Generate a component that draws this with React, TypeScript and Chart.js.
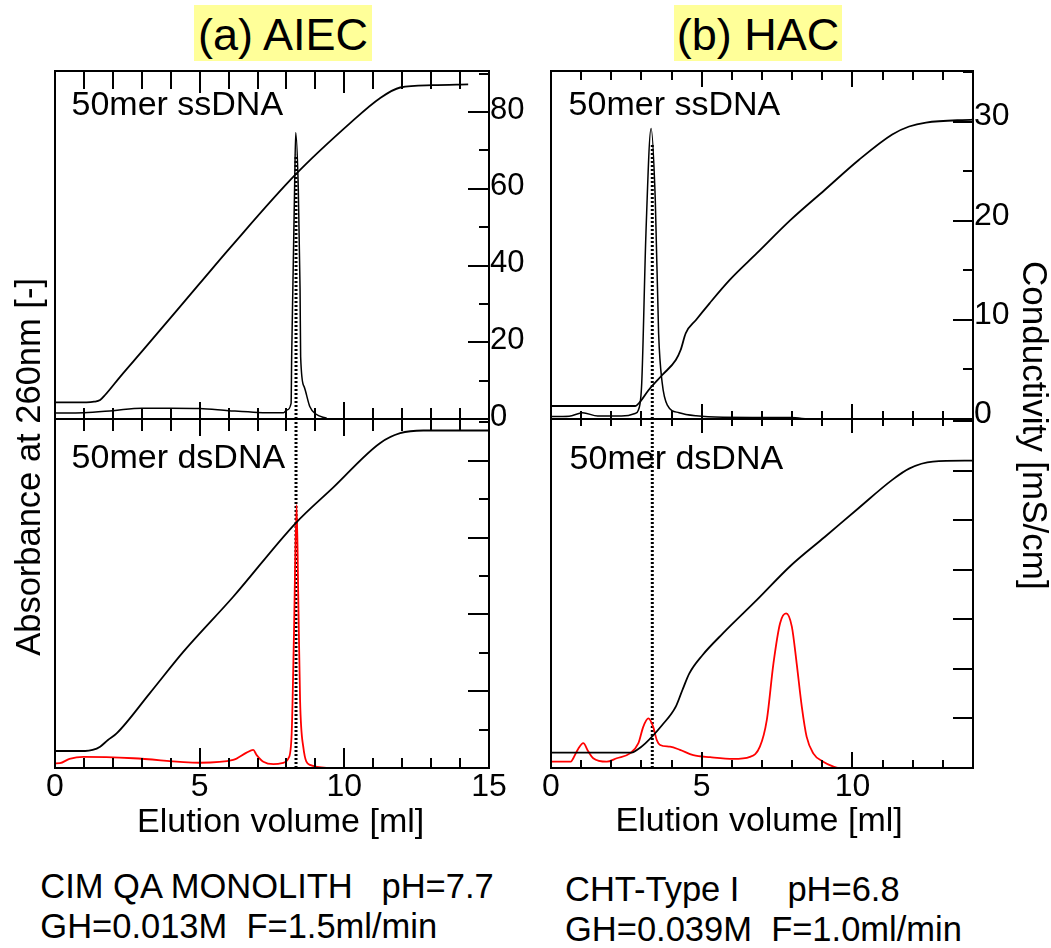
import { useEffect, useRef } from "react";
import { Chart, registerables } from "chart.js";

Chart.register(...registerables);

const FONT = "'Liberation Sans', Arial, Helvetica, sans-serif";

// ---------------- data ----------------
// (a) AIEC, 50mer ssDNA
const aiecSsCondX = [0, 1.09, 1.35, 1.56, 1.73, 2.25, 3.05, 5.01, 6.05, 8.3, 10.2, 11.23, 11.93, 13.07, 14.28];
const aiecSsCondY = [4.35, 4.35, 4.5, 4.95, 6.25, 11.0, 18.0, 35.4, 44.6, 63.6, 77.1, 83.6, 86.4, 87.0, 87.2];
const aiecSsAbsX = [0, 1, 2, 3, 4, 5, 6, 7, 7.9, 8.01, 8.16, 8.18, 8.22, 8.28, 8.32, 8.41, 8.47, 8.49, 8.61, 8.81, 9.0, 9.39];
const aiecSsAbsY = [1.7, 1.8, 2.4, 3.1, 3.1, 3.0, 2.4, 1.9, 1.8, 2.6, 4.5, 17.9, 37.1, 65.8, 82.3, 65.8, 37.1, 17.9, 9.3, 3.5, 1.5, 0.2];

// (a) AIEC, 50mer dsDNA
const aiecDsCondX = [0, 1.04, 1.3, 1.56, 1.83, 2.13, 3.28, 4.44, 6.16, 8.32, 9.62, 11.23, 11.93, 12.73, 15];
const aiecDsCondY = [4.43, 4.43, 4.7, 5.55, 7.3, 9.0, 19.5, 30.3, 44.6, 63.8, 73.1, 84.6, 87.2, 87.9, 87.9];
const aiecDsAbsX = [0, 0.17, 0.5, 0.98, 2.71, 5.01, 6.16, 6.62, 6.85, 6.97, 7.2, 7.55, 7.89, 8.07, 8.18, 8.26, 8.35, 8.41, 8.47, 8.58, 8.81, 9.5];
const aiecDsAbsY = [1.35, 1.4, 2.6, 3.2, 2.8, 1.5, 2.3, 4.4, 5.2, 3.7, 1.8, 1.1, 1.5, 2.8, 9.9, 38.6, 75.4, 48.1, 19.5, 6.1, 0.9, 0];

// (b) HAC, 50mer ssDNA
const hacSsCondX = [0, 2.79, 2.96, 3.24, 3.69, 4.14, 4.3, 4.47, 4.81, 5.26, 5.93, 6.83, 7.95, 9.08, 10.2, 11.32, 11.88, 12.44, 14];
const hacSsCondY = [1.31, 1.31, 1.75, 2.93, 4.44, 5.95, 6.96, 8.65, 9.99, 11.67, 14.03, 16.72, 20.08, 23.1, 26.1, 28.7, 29.5, 29.9, 30.2];
const hacSsAbsX = [0, 0.6, 1.05, 1.55, 2.34, 2.79, 2.9, 3.01, 3.15, 3.32, 3.46, 3.57, 3.69, 3.86, 4.25, 4.81, 5.71, 7.95, 8.51];
const hacSsAbsY = [0.7, 0.8, 1.8, 0.85, 0.85, 1.6, 2.6, 10.3, 53.4, 83.5, 62.9, 24.6, 10.3, 4.0, 1.8, 0.9, 0.5, 0.4, 0];

// (b) HAC, 50mer dsDNA
const hacDsCondX = [0, 2.68, 2.85, 3.13, 3.69, 4.14, 4.36, 4.59, 5.03, 5.71, 6.83, 7.95, 9.08, 10.2, 11.32, 11.88, 12.67, 14];
const hacDsCondY = [1.55, 1.55, 1.82, 2.49, 4.34, 6.19, 7.87, 9.55, 11.4, 13.6, 16.95, 20.4, 23.3, 26.2, 29.06, 30.2, 30.9, 31.0];
const hacDsAbsX = [0, 0.66, 0.74, 0.91, 1.07, 1.24, 1.4, 1.85, 2.18, 2.62, 2.9, 3.06, 3.23, 3.39, 3.51, 3.62, 3.95, 4.28, 4.72, 5.28, 6.05, 6.6, 6.93, 7.16, 7.38, 7.6, 7.8, 7.99, 8.15, 8.32, 8.48, 8.7, 9.03, 9.37, 9.53];
const hacDsAbsY = [1.8, 1.8, 2.8, 5.6, 7.1, 4.7, 2.8, 1.8, 2.8, 4.2, 7.1, 11.8, 14.2, 11.8, 8.0, 6.6, 6.1, 5.2, 3.7, 3.1, 2.6, 3.2, 6.1, 13.8, 30.0, 41.5, 44.3, 40.5, 30.0, 17.6, 9.0, 4.2, 1.8, 0.4, 0];

// elution-volume markers (dotted lines) and axis ranges
const aiecMarker = 8.33;
const hacMarker = 3.36;
const aiecVolMax = 15;
const hacVolMax = 14;
const aiecCondTickStep = 20;
const hacCondTickStep = 10;

const pts = (xs: number[], ys: number[]) => xs.map((x, i) => ({ x, y: ys[i] }));

type Ticks = {
  topMinor: number; topMajor: number; botMinor: number; botMajor: number;
  rStep: number; rMajor: number; rMajorLen: number; rMinorLen: number;
};

type Panel = {
  key: string;
  area: { x: number; y: number; w: number; h: number };
  xMax: number; condMax: number; condStep: number; condFont: number; labelOffset: number;
  showCond: boolean; showX: boolean;
  cond: { x: number; y: number }[]; abs: { x: number; y: number }[];
  absColor: string; absWidth: number; marker: number; markerTop: number; ticks: Ticks;
};

const PANELS: Panel[] = [
  {
    key: "aiec-ss", area: { x: 55, y: 71, w: 434, h: 348 }, xMax: aiecVolMax, condMax: 90.7,
    condStep: aiecCondTickStep, condFont: 31, labelOffset: -2, showCond: true, showX: false,
    cond: pts(aiecSsCondX, aiecSsCondY), abs: pts(aiecSsAbsX, aiecSsAbsY), absColor: "#000", absWidth: 1.5,
    marker: aiecMarker, markerTop: 75.9,
    ticks: { topMinor: 18, topMajor: 22, botMinor: 11, botMajor: 17, rStep: 10, rMajor: 20, rMajorLen: 21, rMinorLen: 10 },
  },
  {
    key: "aiec-ds", area: { x: 55, y: 419, w: 434, h: 349 }, xMax: aiecVolMax, condMax: 90.9,
    condStep: aiecCondTickStep, condFont: 31, labelOffset: 0, showCond: false, showX: true,
    cond: pts(aiecDsCondX, aiecDsCondY), abs: pts(aiecDsAbsX, aiecDsAbsY), absColor: "#ff0000", absWidth: 1.8,
    marker: aiecMarker, markerTop: 100,
    ticks: { topMinor: 12, topMajor: 17, botMinor: 10, botMajor: 20, rStep: 10, rMajor: 20, rMajorLen: 21, rMinorLen: 10 },
  },
  {
    key: "hac-ss", area: { x: 551, y: 71, w: 422, h: 348 }, xMax: hacVolMax, condMax: 35.1,
    condStep: hacCondTickStep, condFont: 32, labelOffset: -5, showCond: true, showX: false,
    cond: pts(hacSsCondX, hacSsCondY), abs: pts(hacSsAbsX, hacSsAbsY), absColor: "#000", absWidth: 1.5,
    marker: hacMarker, markerTop: 79.2,
    ticks: { topMinor: 9, topMajor: 16, botMinor: 8, botMajor: 15, rStep: 5, rMajor: 10, rMajorLen: 20, rMinorLen: 10 },
  },
  {
    key: "hac-ds", area: { x: 551, y: 419, w: 422, h: 349 }, xMax: hacVolMax, condMax: 35.2,
    condStep: hacCondTickStep, condFont: 32, labelOffset: 0, showCond: false, showX: true,
    cond: pts(hacDsCondX, hacDsCondY), abs: pts(hacDsAbsX, hacDsAbsY), absColor: "#ff0000", absWidth: 1.8,
    marker: hacMarker, markerTop: 100,
    ticks: { topMinor: 7, topMajor: 14, botMinor: 8, botMajor: 16, rStep: 5, rMajor: 5, rMajorLen: 20, rMinorLen: 20 },
  },
];

const M = { l: 30, t: 30, r: 60, b: 60 };
const COND_AXIS_W = 50;
const X_AXIS_H = 50;

const makeFrame = (t: Ticks) => ({
  id: "panelFrame",
  afterDraw(chart: any) {
    const ctx: CanvasRenderingContext2D = chart.ctx;
    const xs = chart.scales.x;
    const yc = chart.scales.yC;
    const L = Math.round(xs.getPixelForValue(xs.min));
    const R = Math.round(xs.getPixelForValue(xs.max));
    const T = Math.round(yc.getPixelForValue(yc.max));
    const B = Math.round(yc.getPixelForValue(yc.min));
    ctx.save();
    ctx.setLineDash([]);
    ctx.globalAlpha = 1;
    ctx.globalCompositeOperation = "source-over";
    ctx.fillStyle = "#000";
    // frame
    ctx.fillRect(L - 1, T - 1, R - L + 2, 2);
    ctx.fillRect(L - 1, B - 1, R - L + 2, 2);
    ctx.fillRect(L - 1, T - 1, 2, B - T + 2);
    ctx.fillRect(R - 1, T - 1, 2, B - T + 2);
    // elution-volume ticks on top and bottom edges, pointing inward
    for (let v = 0; v <= xs.max + 1e-6; v += 1) {
      const px = Math.round(xs.getPixelForValue(v));
      const major = v % 5 === 0;
      const lt = major ? t.topMajor : t.topMinor;
      const lb = major ? t.botMajor : t.botMinor;
      ctx.fillRect(px - 1, T, 2, lt);
      ctx.fillRect(px - 1, B - lb, 2, lb);
    }
    // conductivity ticks on the right edge, pointing inward
    for (let i = 0; i * t.rStep <= yc.max + 1e-6; i++) {
      const v = i * t.rStep;
      const py = Math.round(yc.getPixelForValue(v));
      const r = v / t.rMajor;
      const major = Math.abs(r - Math.round(r)) < 1e-6;
      const l = major ? t.rMajorLen : t.rMinorLen;
      ctx.fillRect(R - l, py - 1, l, 2);
    }
    ctx.restore();
  },
});

function buildChart(canvas: HTMLCanvasElement, p: Panel) {
  const xScale: any = {
    type: "linear", min: 0, max: p.xMax, display: p.showX,
    grid: { display: false, drawTicks: false }, border: { display: false },
    ticks: { stepSize: 5, includeBounds: false, maxRotation: 0, padding: 0, color: "#000", font: { family: FONT, size: 32 } },
  };
  if (p.showX) xScale.afterFit = (s: any) => { s.height = X_AXIS_H; };
  const cScale: any = {
    type: "linear", position: "right", min: 0, max: p.condMax, display: p.showCond,
    grid: { display: false, drawTicks: false }, border: { display: false },
    ticks: { stepSize: p.condStep, includeBounds: false, padding: 1, labelOffset: p.labelOffset, color: "#000", font: { family: FONT, size: p.condFont } },
  };
  if (p.showCond) cScale.afterFit = (s: any) => { s.width = COND_AXIS_W; };

  return new Chart(canvas, {
    type: "scatter",
    data: {
      datasets: [
        { data: p.cond, yAxisID: "yC", borderColor: "#000", borderWidth: 1.8, showLine: true, pointRadius: 0, cubicInterpolationMode: "monotone" },
        { data: p.abs, yAxisID: "yA", borderColor: p.absColor, borderWidth: p.absWidth, showLine: true, pointRadius: 0, cubicInterpolationMode: "monotone" },
        {
          data: [{ x: p.marker, y: 0 }, { x: p.marker, y: p.markerTop }],
          yAxisID: "yA", borderColor: "#000", borderWidth: 3, borderDash: [2, 2], showLine: true, pointRadius: 0,
        },
      ],
    } as any,
    options: {
      animation: false,
      responsive: false,
      events: [],
      layout: {
        padding: {
          left: M.l, top: M.t,
          right: p.showCond ? M.r - COND_AXIS_W : M.r,
          bottom: p.showX ? M.b - X_AXIS_H : M.b,
        },
      },
      plugins: { legend: { display: false }, tooltip: { enabled: false } },
      scales: { x: xScale, yA: { type: "linear", min: 0, max: 100, display: false }, yC: cScale },
    } as any,
    plugins: [makeFrame(p.ticks)],
  });
}

function Txt({ x, base, size, children }: { x: number; base: number; size: number; children: string }) {
  return (
    <div style={{ position: "absolute", left: x, top: base - 0.8465 * size, fontSize: size, lineHeight: `${size}px`, whiteSpace: "pre" }}>
      {children}
    </div>
  );
}

function VTxt({ cx, cy, size, mode, children }: { cx: number; cy: number; size: number; mode: string; children: string }) {
  return (
    <div
      style={{
        position: "absolute", left: cx - 20, top: cy - 250, width: 40, height: 500, lineHeight: "40px",
        fontSize: size, textAlign: "center", whiteSpace: "pre", writingMode: mode as any,
      }}
    >
      {children}
    </div>
  );
}

export default function App() {
  const refs = useRef<(HTMLCanvasElement | null)[]>([]);

  useEffect(() => {
    const charts = PANELS.map((p, i) => buildChart(refs.current[i] as HTMLCanvasElement, p));
    return () => charts.forEach((c) => c.destroy());
  }, []);

  const titleStyle = (left: number, width: number): any => ({
    position: "absolute", left, top: 5, width, height: 56, background: "#ffff99",
    fontSize: 45, lineHeight: "59px", textAlign: "center", whiteSpace: "pre",
  });

  return (
    <div style={{ position: "absolute", left: 0, top: 0, width: 1051, height: 948, background: "#fff", color: "#000", fontFamily: FONT, overflow: "hidden" }}>
      {PANELS.map((p) => (
        <div
          key={p.key + "-box"}
          style={{ position: "absolute", left: p.area.x - 1, top: p.area.y - 1, width: p.area.w + 2, height: p.area.h + 2, border: "2px solid #000", boxSizing: "border-box" }}
        />
      ))}
      {PANELS.map((p, i) => (
        <canvas
          key={p.key}
          ref={(el) => { refs.current[i] = el; }}
          width={p.area.w + M.l + M.r}
          height={p.area.h + M.t + M.b}
          style={{ position: "absolute", left: p.area.x - M.l, top: p.area.y - M.t, width: p.area.w + M.l + M.r, height: p.area.h + M.t + M.b }}
        />
      ))}

      <div style={titleStyle(194, 178)}>(a) AIEC</div>
      <div style={titleStyle(674, 168)}>(b) HAC</div>

      <Txt x={71.5} base={115} size={34}>50mer ssDNA</Txt>
      <Txt x={568.6} base={115} size={34}>50mer ssDNA</Txt>
      <Txt x={71.6} base={468} size={34}>50mer dsDNA</Txt>
      <Txt x={569.6} base={469} size={34}>50mer dsDNA</Txt>

      <Txt x={137} base={832} size={34}>Elution volume [ml]</Txt>
      <Txt x={615.5} base={831} size={34}>Elution volume [ml]</Txt>

      <VTxt cx={27.5} cy={467} size={34.5} mode="sideways-lr">Absorbance at 260nm [-]</VTxt>
      <VTxt cx={1035} cy={425} size={35} mode="vertical-rl">Conductivity [mS/cm]</VTxt>

      <Txt x={40.3} base={898} size={34.5}>CIM QA MONOLITH   pH=7.7</Txt>
      <Txt x={40.3} base={938} size={34.5}>GH=0.013M  F=1.5ml/min</Txt>
      <Txt x={565} base={901} size={34.5}>CHT-Type I     pH=6.8</Txt>
      <Txt x={565} base={941} size={34.5}>GH=0.039M  F=1.0ml/min</Txt>
    </div>
  );
}
